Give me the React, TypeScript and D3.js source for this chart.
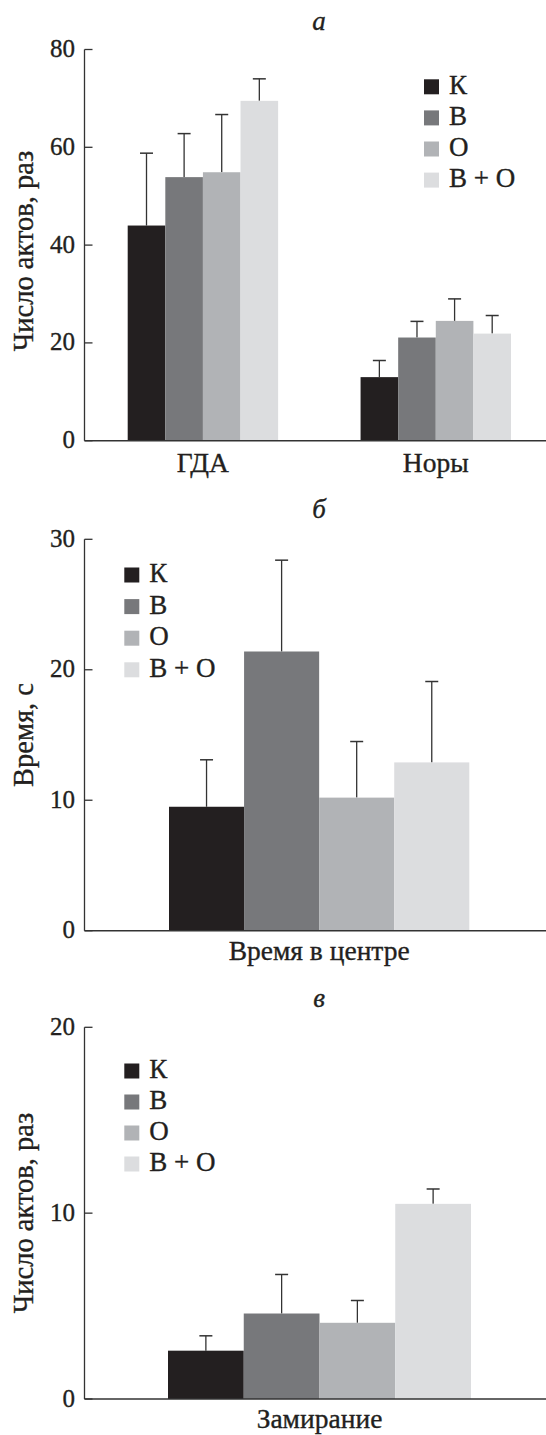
import React, { useEffect, useRef } from "react";
import * as d3 from "d3";

// groups and series
const series = ["К", "В", "О", "В + О"];
const colors = ["#231f20", "#77787b", "#b1b3b6", "#dcdddf"];

// panel a
const groupsA = ["ГДА", "Норы"];
const meansA = [
  [44, 53.9, 54.9, 69.5],
  [13.0, 21.1, 24.5, 21.9],
];
const errA = [
  [14.8, 8.9, 11.8, 4.5],
  [3.4, 3.3, 4.5, 3.7],
];
const ticksA = [0, 20, 40, 60, 80];

// panel b
const groupsB = ["Время в центре"];
const meansB = [[9.5, 21.4, 10.2, 12.9]];
const errB = [[3.6, 7.0, 4.3, 6.2]];
const ticksB = [0, 10, 20, 30];

// panel c
const groupsC = ["Замирание"];
const meansC = [[2.6, 4.6, 4.1, 10.5]];
const errC = [[0.8, 2.1, 1.2, 0.8]];
const ticksC = [0, 10, 20];

const W = 546;
const H = 1435;
const FONT = "Liberation Serif, DejaVu Serif, serif";
const AXIS_X = 84.5;
const INK = "#231f20";

const panels = [
  {
    title: "а", titleY: 29.5, ylabel: "Число актов, раз", labY: 251,
    groups: groupsA, means: meansA, errs: errA, ticks: ticksA,
    y0: 440.7, y1: 49.5, xr: [127.7, 511], padIn: 0.354,
    legX: 424, legY: 79.3, legStep: 31.1, catY: 472,
  },
  {
    title: "б", titleY: 518, ylabel: "Время, с", labY: 735,
    groups: groupsB, means: meansB, errs: errB, ticks: ticksB,
    y0: 930.7, y1: 539.3, xr: [169, 469.3], padIn: 0,
    legX: 124.3, legY: 567.5, legStep: 31.6, catY: 960,
  },
  {
    title: "в", titleY: 1006.5, ylabel: "Число актов, раз", labY: 1213,
    groups: groupsC, means: meansC, errs: errC, ticks: ticksC,
    y0: 1399, y1: 1027.3, xr: [168, 471], padIn: 0,
    legX: 124.3, legY: 1063.5, legStep: 31, catY: 1428,
  },
];

function App() {
  const ref = useRef<SVGSVGElement>(null);

  useEffect(() => {
    const svg = d3.select(ref.current);
    svg.selectAll("*").remove();

    panels.forEach((p) => {
      const g = svg.append("g").style("font-family", FONT);
      const y = d3.scaleLinear()
        .domain([0, p.ticks[p.ticks.length - 1]])
        .range([p.y0, p.y1]);
      const x = d3.scaleBand()
        .domain(p.groups)
        .range(p.xr as [number, number])
        .paddingInner(p.padIn)
        .paddingOuter(0);
      const xs = d3.scaleBand()
        .domain(series)
        .range([0, x.bandwidth()])
        .padding(0);

      // text helper, slightly heavier ink like the printed figure
      const txt = (sel: any) =>
        sel.attr("fill", INK).attr("stroke", INK).attr("stroke-width", 0.35);

      // bars with error whiskers
      p.groups.forEach((grp, gi) => {
        const gg = g.append("g").attr("transform", `translate(${x(grp)},0)`);
        series.forEach((s, si) => {
          const v = p.means[gi][si];
          const e = p.errs[gi][si];
          const cx = (xs(s) as number) + xs.bandwidth() / 2;
          gg.append("line")
            .attr("x1", cx).attr("x2", cx)
            .attr("y1", y(v)).attr("y2", y(v + e))
            .attr("stroke", "#333").attr("stroke-width", 1.3);
          gg.append("line")
            .attr("x1", cx - 6.5).attr("x2", cx + 6.5)
            .attr("y1", y(v + e)).attr("y2", y(v + e))
            .attr("stroke", "#333").attr("stroke-width", 1.5);
          gg.append("rect")
            .attr("x", xs(s) as number)
            .attr("y", y(v))
            .attr("width", xs.bandwidth())
            .attr("height", y(0) - y(v))
            .attr("fill", colors[si]);
        });
        g.append("text")
          .attr("x", (x(grp) as number) + x.bandwidth() / 2)
          .attr("y", p.catY)
          .attr("text-anchor", "middle")
          .style("font-size", "27.5px")
          .call(txt)
          .text(grp);
      });

      // axes
      g.append("line")
        .attr("x1", AXIS_X).attr("x2", AXIS_X)
        .attr("y1", p.y1).attr("y2", p.y0)
        .attr("stroke", "#333").attr("stroke-width", 1.3);
      g.append("line")
        .attr("x1", AXIS_X).attr("x2", W)
        .attr("y1", p.y0).attr("y2", p.y0)
        .attr("stroke", "#333").attr("stroke-width", 1.5);
      p.ticks.forEach((t) => {
        g.append("line")
          .attr("x1", AXIS_X).attr("x2", AXIS_X + 8)
          .attr("y1", y(t)).attr("y2", y(t))
          .attr("stroke", "#333").attr("stroke-width", 1.3);
        g.append("text")
          .attr("x", AXIS_X - 9.5)
          .attr("y", y(t) + 7.5)
          .attr("text-anchor", "end")
          .style("font-size", "25px")
          .call(txt)
          .text(t);
      });

      // y label
      g.append("text")
        .attr("transform", `translate(33,${p.labY}) rotate(-90)`)
        .attr("text-anchor", "middle")
        .style("font-size", "28.5px")
        .call(txt)
        .text(p.ylabel);

      // title
      g.append("text")
        .attr("x", 319)
        .attr("y", p.titleY)
        .attr("text-anchor", "middle")
        .style("font-size", "27px")
        .style("font-style", "italic")
        .call(txt)
        .text(p.title);

      // legend
      series.forEach((s, si) => {
        const ly = p.legY + si * p.legStep;
        g.append("rect")
          .attr("x", p.legX).attr("y", ly)
          .attr("width", 15).attr("height", 15)
          .attr("fill", colors[si]);
        g.append("text")
          .attr("x", p.legX + 25)
          .attr("y", ly + 14.5)
          .style("font-size", "27px")
          .call(txt)
          .text(s);
      });
    });
  }, []);

  return (
    <svg
      ref={ref}
      width={W}
      height={H}
      style={{ position: "absolute", left: 0, top: 0, background: "#fff" }}
    />
  );
}

export default App;
